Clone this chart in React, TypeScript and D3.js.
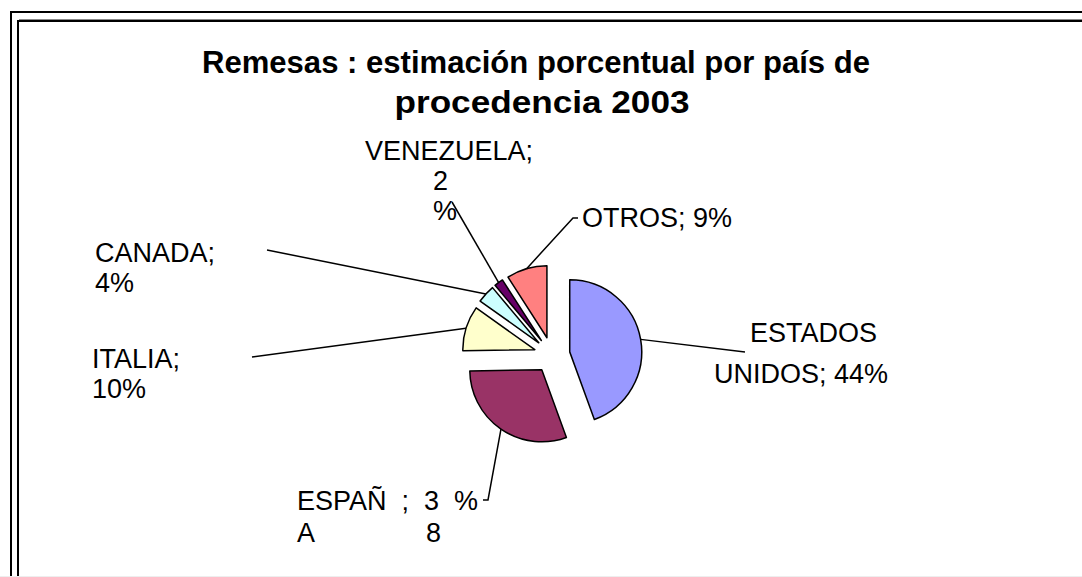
import React from "react";
import * as d3 from "d3";

// slices, clockwise from 12 o'clock
const countries = ["ESTADOS UNIDOS", "ESPAÑA", "ITALIA", "CANADA", "VENEZUELA", "OTROS"];
const shares = [44, 30, 10, 4, 2, 9];
const colors = ["#9999FF", "#993366", "#FFFFCC", "#CCFFFF", "#660066", "#FF8080"];

// data label text as it is wrapped on the chart
const labelLines = [
  ["ESTADOS", "UNIDOS; 44%"],
  ["ESPAÑ  ;  3  %", "A               8"],
  ["ITALIA;", "10%"],
  ["CANADA;", "4%"],
  ["VENEZUELA;", "2", "%"],
  ["OTROS; 9%"],
];

const titleLines = ["Remesas : estimación porcentual por país de", "procedencia 2003"];

const W = 1082;
const H = 577;
const cx = 552;
const cy = 355;
const radius = 72;
const explode = 18;
const fontSize = 27;
const font = "'Liberation Sans', Arial, sans-serif";

// position of every line of each label, and the elbow/end of its leader line
const labelLayout = [
  { rows: [[750, 342], [714, 383]], line: [[745, 352]] },
  { rows: [[297, 510], [297, 542]], line: [[488, 500], [483, 500]] },
  { rows: [[92, 368], [92, 398]], line: [[252, 357]] },
  { rows: [[95, 262], [95, 292]], line: [[267, 250]] },
  { rows: [[365, 160], [433, 190], [433, 220]], line: [[452, 202]] },
  { rows: [[582, 227]], line: [[573, 218], [578, 218]] },
];

const Slice = ({ d, i, arc, edge }) => {
  const mid = (d.startAngle + d.endAngle) / 2;
  const dx = Math.sin(mid) * explode;
  const dy = -Math.cos(mid) * explode;
  const [ex, ey] = edge.centroid(d);
  const lay = labelLayout[i];
  const pts = [[cx + dx + ex, cy + dy + ey], ...lay.line];
  return (
    <g>
      <path
        d={arc(d)}
        transform={`translate(${cx + dx},${cy + dy})`}
        fill={colors[i]}
        stroke="#000"
        strokeWidth={1.5}
        strokeLinejoin="round"
      />
      <path d={d3.line()(pts)} fill="none" stroke="#000" strokeWidth={1.5} />
      <text fontSize={fontSize} fontFamily={font} fill="#000" style={{ whiteSpace: "pre" }}>
        {labelLines[i].map((t, k) => (
          <tspan key={k} x={lay.rows[k][0]} y={lay.rows[k][1]}>
            {t}
          </tspan>
        ))}
      </text>
    </g>
  );
};

export default function App() {
  const pie = d3.pie<number>().value(v => v).sort(null);
  const arcs = pie(shares);
  const arc = d3.arc().innerRadius(0).outerRadius(radius);
  const edge = d3.arc().innerRadius(radius).outerRadius(radius);

  return (
    <svg
      width={W}
      height={H}
      style={{ position: "absolute", left: 0, top: 0, background: "#fff" }}
    >
      {/* double frame, cut by the picture edge on the right and bottom */}
      <path d={`M11,${H} V12 H${W}`} fill="none" stroke="#000" strokeWidth={2} />
      <path d={`M18,${H} V21 H${W}`} fill="none" stroke="#000" strokeWidth={2} />
      <line x1={19} x2={W} y1={19.5} y2={19.5} stroke="#888" strokeWidth={1} />
      <line x1={0} x2={W} y1={576.5} y2={576.5} stroke="#eee" strokeWidth={1} />

      <g fontFamily={font} fontWeight="bold" fontSize={32} textAnchor="middle">
        <text x={536} y={73} textLength={668} lengthAdjust="spacingAndGlyphs">
          {titleLines[0]}
        </text>
        <text x={542} y={113} textLength={295} lengthAdjust="spacingAndGlyphs">
          {titleLines[1]}
        </text>
      </g>

      {arcs.map((d, i) => (
        <Slice key={countries[i]} d={d} i={i} arc={arc} edge={edge} />
      ))}
    </svg>
  );
}
